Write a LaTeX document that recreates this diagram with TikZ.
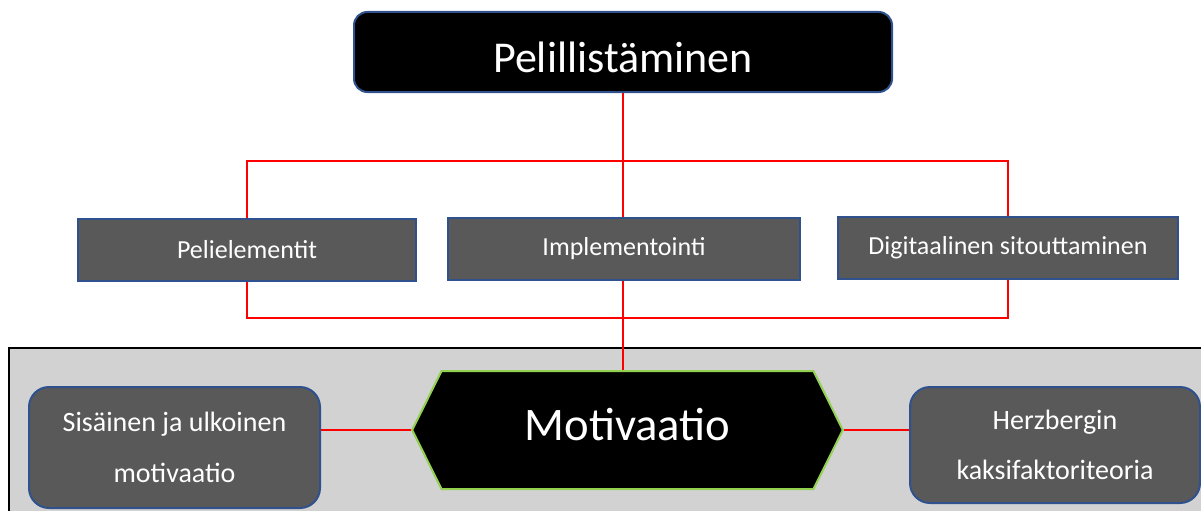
\documentclass[tikz,border=0pt]{standalone}
\usepackage{fontspec}
\setmainfont{Carlito}
\usepackage{xcolor}
\usetikzlibrary{shapes.symbols}
\definecolor{boxblue}{RGB}{47,82,143}
\definecolor{boxgray}{RGB}{89,89,89}
\definecolor{panelgray}{RGB}{210,210,210}
\definecolor{hexgreen}{RGB}{146,208,80}
\tikzset{every picture/.style={line width=0.75pt}}
\tikzset{
  mainbox/.style={draw=boxblue, line width=1.5pt, fill=black, text=white, rounded corners=10pt,
    minimum width=403.5pt, minimum height=60pt, inner sep=0pt, text height=31pt, text depth=0pt,
    font=\fontsize{33}{40}\selectfont},
  subbox/.style={draw=boxblue, line width=1.5pt, fill=boxgray, text=white,
    minimum height=46.5pt, inner sep=0pt, font=\fontsize{19.5}{24}\selectfont},
  roundbox/.style={draw=boxblue, line width=1.5pt, fill=boxgray, text=white, rounded corners=15pt,
    align=center, inner sep=0pt, font=\fontsize{21}{38}\selectfont},
  hexbox/.style={shape=signal, signal to=west and east, signal pointer angle=127,
    draw=hexgreen, line width=1.5pt, fill=black, text=white, inner sep=0pt,
    text height=15pt, text depth=0pt,
    minimum width=323pt, minimum height=88.5pt, font=\fontsize{35}{42}\selectfont},
  redline/.style={draw=red, line width=0.9pt}
}

\begin{document}
\begin{tikzpicture}[x=0.75pt,y=0.75pt,yscale=-1,xscale=1]
\useasboundingbox (0,0) rectangle (1201,510);

%Shape: Rectangle (panel)
\draw [fill=panelgray, line width=1.5pt] (9,348) rectangle (1215,525);

% Nodes
\node [mainbox] (gamif) at (623,52) {Pelillistäminen};
\node [subbox, minimum width=253.5pt] (peli) at (247,250) {Pelielementit};
\node [subbox, minimum width=264pt] (impl) at (624,249) {Implementointi};
\node [subbox, minimum width=255pt] (digi) at (1008,248) {Digitaalinen sitouttaminen};
\node [hexbox] (motiv) at (627.5,430) {Motivaatio};
\node [roundbox, minimum width=218.25pt, minimum height=90.75pt] (sisa) at (174.5,447.5) {Sisäinen ja ulkoinen\\motivaatio};
\node [roundbox, minimum width=217.5pt, minimum height=87pt] (herz) at (1055,445) {Herzbergin\\kaksifaktoriteoria};

% Coordinates for the two red busses
\coordinate (busup) at (623,161);
\coordinate (buslow) at (623,318);

%Straight Lines
\draw [redline] (gamif.south) -- (gamif.south |- impl.north);
\draw [redline] (peli.north) |- (busup) -| (digi.north);
\draw [redline] (peli.south) |- (buslow) -| (digi.south);
\draw [redline] (impl.south -| gamif.south) -- (motiv.north -| gamif.south);
\draw [redline] (motiv.west) -- (motiv.west -| sisa.east);
\draw [redline] (motiv.east) -- (motiv.east -| herz.west);

\end{tikzpicture}
\end{document}
